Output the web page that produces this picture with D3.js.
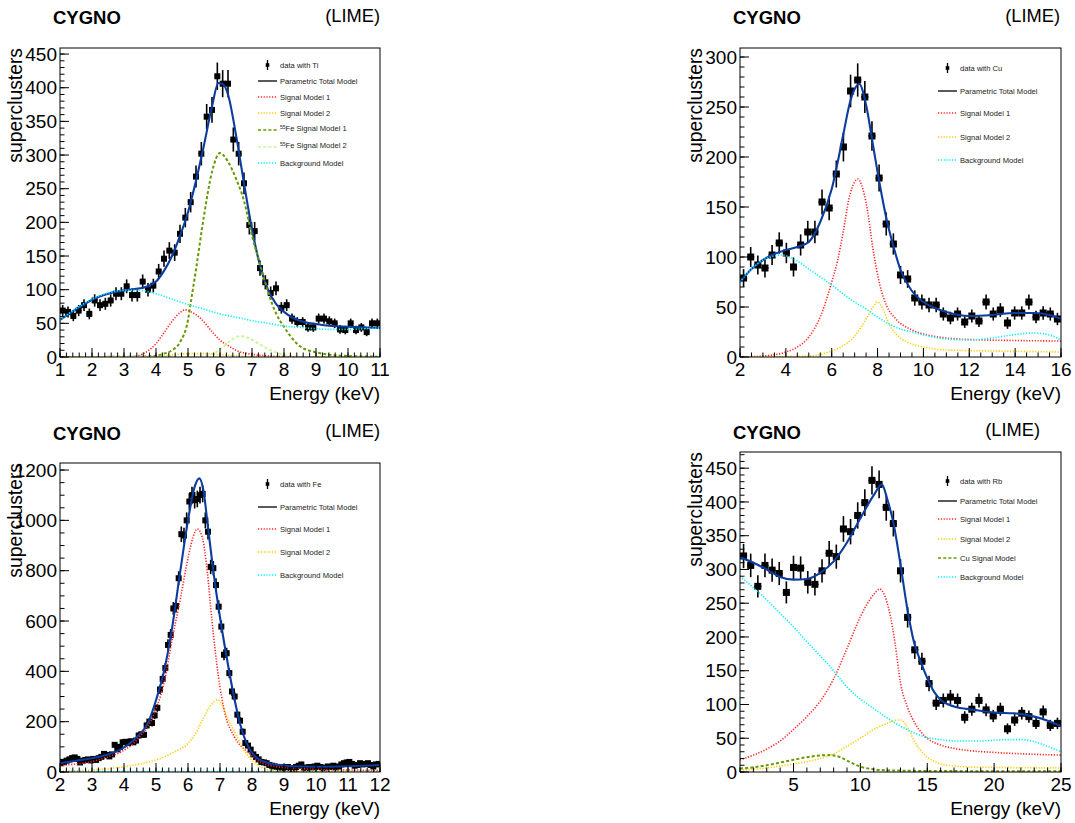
<!DOCTYPE html>
<html><head><meta charset="utf-8">
<script src="https://cdn.jsdelivr.net/npm/d3@7"></script>
<style>
body{margin:0;background:#fff}
svg{display:block}
text{font-family:"Liberation Sans",Arial,Helvetica,sans-serif;fill:#000}
</style>
</head><body>
<svg id="chart" width="1075" height="823"></svg>
<script>
// ---------------- DATA ----------------
// Ti panel: 60 bins from 1 to 11 keV
const tiRange = [1, 11];
const tiCounts = [69,67,61,69,77,64, 84,77,79,84,94,94, 105,92,92,112,100,106, 127,146,158,155,183,207,
  230,268,302,357,367,417, 406,406,323,302,258,196, 187,132,111,95,102,73, 77,57,52,52,44,44,
  57,57,53,50,41,40, 50,40,44,37,50,50];
const tiTotal = [[1,55],[1.25,63],[1.5,71],[1.75,78],[2,85],[2.5,94],[3,99],[3.5,102],[3.75,105],[4,112],[4.25,128],[4.5,150],[4.75,180],[5,215],[5.25,262],[5.5,315],[5.75,372],[5.95,407],[6.1,405],[6.25,390],[6.5,330],[6.75,258],[7,190],[7.25,136],[7.5,100],[7.75,79],[8,67],[8.25,59],[8.5,54],[9,49],[9.5,46],[10,45],[10.5,44],[11,43]];
const tiSignal1 = [[1,0],[3,0],[3.25,0.5],[3.5,3],[3.75,9],[4,20],[4.25,36],[4.5,53],[4.75,66],[4.9,70],[5.1,67],[5.4,57],[5.8,35],[6,25],[6.25,17],[6.5,10],[7,4],[7.5,1.5],[8,0.5],[9,0],[11,0]];
const tiSignal2 = [[1,0],[3.5,0],[4,1],[4.5,3],[5,5],[5.5,5],[6,3.5],[6.5,1.5],[7,0.5],[8,0],[11,0]];
const tiFeSignal1 = [[1,0],[3.5,0.5],[4,2],[4.25,5],[4.5,10],[4.75,22],[5,55],[5.1,85],[5.25,130],[5.5,210],[5.75,275],[6,303],[6.25,290],[6.5,265],[6.75,232],[7,180],[7.25,138],[7.5,97],[7.75,65],[8,45],[8.25,28],[8.5,16],[9,7],[9.5,3],[10,1.5],[11,0.5]];
const tiFeSignal2 = [[1,0],[5.3,0],[5.6,2],[5.9,8],[6.1,15],[6.35,25],[6.6,31],[6.9,28],[7.2,20],[7.5,12],[7.8,6],[8.1,2],[8.5,0.5],[9,0],[11,0]];
const tiBackground = [[1,55],[1.5,72],[2,86],[2.5,95],[3,99],[3.5,99],[4,94],[4.5,86],[5,78],[5.5,71],[6,64],[6.5,59],[7,54],[7.5,50],[8,46],[8.5,44],[9,42],[9.5,41],[10,41],[10.5,42],[11,43]];

// Cu panel: 45 bins from 2 to 16 keV
const cuRange = [2, 16];
const cuCounts = [79,100,92,89,102,114,104,90,112,125,125,155,149,183,210,266,277,260,221,179,133,113,82,78,59,55,52,52,43,39,43,35,41,36,55,43,47,34,44,44,55,40,44,43,38];
const cuTotal = [[2,75],[2.5,88],[3,97],[3.5,103],[4,107],[4.5,110],[5,115],[5.5,135],[6,168],[6.5,222],[6.8,255],[7,268],[7.2,273],[7.5,252],[7.8,212],[8.1,172],[8.4,137],[8.7,110],[9,87],[9.5,66],[10,55],[10.5,49],[11,45],[12,41],[13,42],[14,44],[14.8,44],[15.5,42],[16,38]];
const cuSignal1 = [[2,0],[3,1],[4,5],[4.5,10],[5,20],[5.5,40],[6,75],[6.25,96],[6.5,125],[6.75,158],[7,175],[7.15,178],[7.3,172],[7.55,148],[7.8,108],[8.1,72],[8.4,51],[8.8,38],[9.5,27],[10,23],[11,19],[12,17.5],[14,16.5],[16,16]];
const cuSignal2 = [[2,0],[5,1],[5.6,3],[6,6],[6.4,10],[7,21],[7.5,38],[7.8,50],[8,55],[8.25,47],[8.5,33],[9,19],[9.5,13],[10,10],[11,7],[13,6],[16,5]];
const cuBackground = [[2,75],[2.5,88],[3,97],[3.5,101],[3.8,102],[4.5,96],[5,88],[5.5,80],[6,72],[6.5,63],[7,55],[7.5,48],[8,40],[8.5,33],[9,28],[9.5,25],[10,22],[11,18],[12,17],[13,19],[14,22.5],[14.8,24],[15.5,22],[16,17]];

// Fe panel: 120 bins from 2 to 12 keV
const feRange = [2, 12];
const feCounts = [35,40,45,50,55,58,52,38,45,48,50,46,52,48,55,60,72,68,62,70,
  108,90,100,118,120,115,122,118,125,145,150,148,185,200,195,225,255,328,370,413,
  505,545,650,660,770,945,940,1000,1075,1100,1080,1085,1100,1105,1000,955,815,810,743,657,
  578,466,472,393,320,300,228,204,160,115,105,89,70,60,50,40,38,35,28,25,
  22,20,18,15,18,20,15,12,20,25,30,18,15,20,18,22,25,20,15,18,
  22,20,25,18,22,30,35,38,40,32,25,28,35,30,32,35,28,22,30,32];
const feTotal = [[2,35],[2.5,45],[3,55],[3.5,70],[3.9,90],[4.45,145],[4.75,195],[5,285],[5.25,400],[5.5,570],[5.75,790],[6,1000],[6.2,1130],[6.35,1167],[6.5,1105],[6.6,1000],[6.79,800],[7,615],[7.21,455],[7.42,310],[7.63,190],[7.83,115],[8.04,70],[8.25,48],[8.5,36],[9,26],[9.5,22],[10.1,21],[11,23],[12,28]];
const feSignal1 = [[2,25],[2.5,32],[3,42],[3.5,60],[3.93,81],[4.45,134],[4.97,240],[5.28,370],[5.5,524],[5.75,680],[6,850],[6.15,930],[6.29,966],[6.45,930],[6.6,800],[6.75,600],[6.95,380],[7.15,235],[7.45,140],[7.9,75],[8.3,36],[9.1,16],[10,11],[11,8],[12,6]];
const feSignal2 = [[2,3],[3,8],[4,21],[4.5,32],[5,48],[5.5,75],[6,114],[6.25,155],[6.45,206],[6.7,262],[6.93,287],[7.1,258],[7.26,207],[7.5,150],[7.68,101],[7.9,60],[8.09,36],[8.3,18],[8.5,9],[9,5],[10,4],[12,3]];
const feBackground = [[2,2],[7,1.5],[12,1]];

// Rb panel: 45 bins from 1 to 25 keV
const rbRange = [1, 25];
const rbCounts = [320,306,275,306,299,294,266,303,302,281,278,298,324,319,360,356,380,399,432,426,392,368,298,229,181,164,131,102,106,111,106,81,93,106,92,83,93,64,77,87,82,72,89,69,72];
const rbTotal = [[1,318],[2,310],[3,300],[4,289],[5,285],[6,286],[7,295],[8,312],[9,340],[10,376],[11,410],[11.6,426],[12,405],[12.5,366],[13,307],[13.5,243],[14,193],[14.5,164],[15,139],[15.5,119],[16,107],[17,97],[18.5,92],[20,88],[21.5,87],[23,82],[24,76],[25,68]];
const rbSignal1 = [[1,18],[2,25],[3,34],[4,46],[5,63],[6,82],[7,105],[8,138],[9,183],[10,230],[11,263],[11.45,271],[11.8,262],[12.2,235],[12.6,190],[13,132],[13.5,97],[14,75],[14.5,60],[15,50],[16,40],[17,35],[18,32],[20,29],[22,27],[25,25]];
const rbSignal2 = [[1,3],[3,6],[5,12],[7,20],[8,27],[9,38],[10,50],[11,63],[12,72],[12.5,76],[13,77],[13.4,70],[13.8,55],[14.2,40],[14.6,30],[15,22],[15.5,16],[16,12],[17,9],[19,7],[25,6]];
const rbCuSignal = [[1,5],[2,7],[3,10],[4,14],[5,18],[6,22],[7,24.5],[7.75,25],[8.5,22],[9,17],[9.5,12],[10,8],[11,4],[12,2.5],[13,2],[15,1.5],[25,1]];
const rbBackground = [[1,290],[2,273],[3,255],[4,235],[5,215],[6,193],[7,172],[8,150],[9,126],[10,108],[11,94],[12,80],[13,68],[14,58],[15,51],[16,48],[17,46],[18,46],[19,46],[20,47],[21,48],[22,48],[23,45],[24,38],[25,30]];

// tick settings
const tiXTicks = d3.range(1, 11.01, 1), tiYTicks = d3.range(0, 451, 50);
const cuXTicks = d3.range(2, 16.01, 2), cuYTicks = d3.range(0, 301, 50);
const feXTicks = d3.range(2, 12.01, 1), feYTicks = d3.range(0, 1201, 200);
const rbXTicks = d3.range(5, 25.01, 5), rbYTicks = d3.range(0, 451, 50);

// ---------------- STYLES ----------------
const STY = {
  total:{stroke:"#0b3c9e", width:2.1, dash:null},
  sig1:{stroke:"#ff2020", width:1.6, dash:"1.2,1.6"},
  sig2:{stroke:"#ffcc00", width:1.6, dash:"1.2,1.6"},
  fe1:{stroke:"#669900", width:2, dash:"3,2.2"},
  fe2:{stroke:"#ccf599", width:2, dash:"3,2.2"},
  bkg:{stroke:"#00f0ff", width:1.6, dash:"1.2,1.6"}
};

const panels = [
  {id:"ti", box:{l:60,r:380,t:48,b:357}, xDom:tiRange, yMax:459, xTicks:tiXTicks, xMinor:0.2, yTicks:tiYTicks, yMinor:10,
   counts:tiCounts, ms:6,
   curves:[["total",tiTotal],["sig1",tiSignal1],["sig2",tiSignal2],["fe1",tiFeSignal1],["fe2",tiFeSignal2],["bkg",tiBackground]],
   title:{cx:53, cy:24, lx:380, ly:22}, ylab:{x:22},
   legend:{x:258, rows:[65,81,97,113,130,147,163],
     items:[["data","data with Ti"],["line","Parametric Total Model"],["sig1","Signal Model 1"],["sig2","Signal Model 2"],["fe1","55|Fe Signal Model 1"],["fe2","55|Fe Signal Model 2"],["bkg","Background Model"]]}},
  {id:"cu", box:{l:740,r:1061,t:48,b:357}, xDom:cuRange, yMax:309, xTicks:cuXTicks, xMinor:0.5, yTicks:cuYTicks, yMinor:10,
   counts:cuCounts, ms:7,
   curves:[["total",cuTotal],["sig1",cuSignal1],["sig2",cuSignal2],["bkg",cuBackground]],
   title:{cx:733, cy:24, lx:1060, ly:22}, ylab:{x:702},
   legend:{x:938, rows:[68,91,113,137,160],
     items:[["data","data with Cu"],["line","Parametric Total Model"],["sig1","Signal Model 1"],["sig2","Signal Model 2"],["bkg","Background Model"]]}},
  {id:"fe", box:{l:60,r:380,t:463,b:772}, xDom:feRange, yMax:1228, xTicks:feXTicks, xMinor:0.2, yTicks:feYTicks, yMinor:50,
   counts:feCounts, ms:6,
   curves:[["total",feTotal],["sig1",feSignal1],["sig2",feSignal2],["bkg",feBackground]],
   title:{cx:53, cy:440, lx:380, ly:437}, ylab:{x:22},
   legend:{x:258, rows:[484,507,529,552,575],
     items:[["data","data with Fe"],["line","Parametric Total Model"],["sig1","Signal Model 1"],["sig2","Signal Model 2"],["bkg","Background Model"]]}},
  {id:"rb", box:{l:740,r:1061,t:452,b:772}, xDom:rbRange, yMax:474, xTicks:rbXTicks, xMinor:1, yTicks:rbYTicks, yMinor:10,
   counts:rbCounts, ms:7,
   curves:[["total",rbTotal],["sig1",rbSignal1],["sig2",rbSignal2],["fe1",rbCuSignal],["bkg",rbBackground]],
   title:{cx:733, cy:439, lx:1040, ly:436}, ylab:{x:702},
   legend:{x:938, rows:[481,501,519,539,558,577],
     items:[["data","data with Rb"],["line","Parametric Total Model"],["sig1","Signal Model 1"],["sig2","Signal Model 2"],["fe1","Cu Signal Model"],["bkg","Background Model"]]}}
];

const svg = d3.select("#chart");
const TICK = 9, MINOR = 4.5, FS = 19;

panels.forEach((p, pi) => {
  const B = p.box;
  const x = d3.scaleLinear().domain(p.xDom).range([B.l, B.r]);
  const y = d3.scaleLinear().domain([0, p.yMax]).range([B.b, B.t]);
  const g = svg.append("g");
  const clipId = "clip" + pi;
  svg.append("clipPath").attr("id", clipId).append("rect")
    .attr("x", B.l).attr("y", B.t).attr("width", B.r - B.l).attr("height", B.b - B.t);

  // titles
  g.append("text").attr("x", p.title.cx).attr("y", p.title.cy).attr("font-size", 18.5).attr("font-weight", "bold").text("CYGNO");
  g.append("text").attr("x", p.title.lx).attr("y", p.title.ly).attr("font-size", 18.3).attr("text-anchor", "end").text("(LIME)");

  // data
  const n = p.counts.length, w = (p.xDom[1] - p.xDom[0]) / n;
  const bins = p.counts.map((v, i) => ({c: p.xDom[0] + (i + 0.5) * w, v}));
  const dg = g.append("g").attr("clip-path", `url(#${clipId})`);
  const pts = dg.selectAll("g.pt").data(bins).join("g");
  pts.append("line").attr("x1", d => x(d.c)).attr("x2", d => x(d.c))
    .attr("y1", d => y(d.v - Math.sqrt(d.v))).attr("y2", d => y(d.v + Math.sqrt(d.v)))
    .attr("stroke", "#000").attr("stroke-width", 1.6);
  pts.append("line").attr("x1", d => x(d.c - w / 2)).attr("x2", d => x(d.c + w / 2))
    .attr("y1", d => y(d.v)).attr("y2", d => y(d.v))
    .attr("stroke", "#000").attr("stroke-width", 1.6);
  pts.append("rect").attr("x", d => x(d.c) - p.ms / 2).attr("y", d => y(d.v) - p.ms / 2)
    .attr("width", p.ms).attr("height", p.ms).attr("fill", "#000");

  // curves
  const line = d3.line().x(d => x(d[0])).y(d => y(d[1])).curve(d3.curveMonotoneX);
  const cg = g.append("g").attr("clip-path", `url(#${clipId})`);
  p.curves.forEach(([k, arr]) => {
    const s = STY[k];
    cg.append("path").datum(arr).attr("d", line).attr("fill", "none")
      .attr("stroke", s.stroke).attr("stroke-width", s.width)
      .attr("stroke-dasharray", s.dash).attr("stroke-linejoin", "round");
  });

  // frame
  g.append("rect").attr("x", B.l).attr("y", B.t).attr("width", B.r - B.l).attr("height", B.b - B.t)
    .attr("fill", "none").attr("stroke", "#000").attr("stroke-width", 1);

  // x ticks (inside)
  const xMinorTicks = d3.range(p.xDom[0], p.xDom[1] + 1e-9, p.xMinor);
  g.selectAll(null).data(xMinorTicks).join("line")
    .attr("x1", d => x(d)).attr("x2", d => x(d)).attr("y1", B.b).attr("y2", B.b - MINOR)
    .attr("stroke", "#000").attr("stroke-width", 1);
  g.selectAll(null).data(p.xTicks).join("line")
    .attr("x1", d => x(d)).attr("x2", d => x(d)).attr("y1", B.b).attr("y2", B.b - TICK)
    .attr("stroke", "#000").attr("stroke-width", 1);
  g.selectAll(null).data(p.xTicks).join("text")
    .attr("x", d => x(d)).attr("y", B.b + 19).attr("text-anchor", "middle").attr("font-size", FS)
    .text(d => d3.format("d")(d));

  // y ticks
  const yMinorTicks = d3.range(0, p.yMax + 1e-9, p.yMinor);
  g.selectAll(null).data(yMinorTicks).join("line")
    .attr("x1", B.l).attr("x2", B.l + MINOR).attr("y1", d => y(d)).attr("y2", d => y(d))
    .attr("stroke", "#000").attr("stroke-width", 1);
  g.selectAll(null).data(p.yTicks).join("line")
    .attr("x1", B.l).attr("x2", B.l + TICK).attr("y1", d => y(d)).attr("y2", d => y(d))
    .attr("stroke", "#000").attr("stroke-width", 1);
  g.selectAll(null).data(p.yTicks).join("text")
    .attr("x", B.l - 3).attr("y", d => y(d)).attr("dy", "0.35em").attr("text-anchor", "end").attr("font-size", FS)
    .text(d => d3.format("d")(d));

  // axis titles
  g.append("text").attr("x", B.r).attr("y", B.b + 43).attr("text-anchor", "end").attr("font-size", FS).text("Energy (keV)");
  g.append("text").attr("transform", `translate(${p.ylab.x},${B.t}) rotate(-90)`).attr("text-anchor", "end")
    .attr("font-size", 19.3).text("superclusters");

  // legend
  const L = p.legend;
  L.items.forEach(([type, label], i) => {
    const yy = L.rows[i];
    const x0 = L.x, x1 = L.x + 19, xm = (x0 + x1) / 2;
    if (type === "data") {
      g.append("line").attr("x1", xm).attr("x2", xm).attr("y1", yy - 5).attr("y2", yy + 5).attr("stroke", "#000").attr("stroke-width", 1.3);
      g.append("rect").attr("x", xm - 1.8).attr("y", yy - 1.8).attr("width", 3.6).attr("height", 3.6).attr("fill", "#000");
    } else if (type === "line") {
      g.append("line").attr("x1", x0).attr("x2", x1).attr("y1", yy).attr("y2", yy).attr("stroke", "#000").attr("stroke-width", 1.3);
    } else {
      const s = STY[type];
      g.append("line").attr("x1", x0).attr("x2", x1).attr("y1", yy).attr("y2", yy)
        .attr("stroke", s.stroke).attr("stroke-width", s.width * 0.8).attr("stroke-dasharray", s.dash);
    }
    const t = g.append("text").attr("x", x1 + 3).attr("y", yy).attr("dy", "0.35em").attr("font-size", 7.6).style("fill", "#222");
    if (label.includes("|")) {
      const [sup, rest] = label.split("|");
      t.append("tspan").attr("font-size", 5).attr("dy", "-0.3em").text(sup);
      t.append("tspan").attr("dy", "0.3em").text(rest);
    } else t.text(label);
  });
});
</script>
</body></html>
